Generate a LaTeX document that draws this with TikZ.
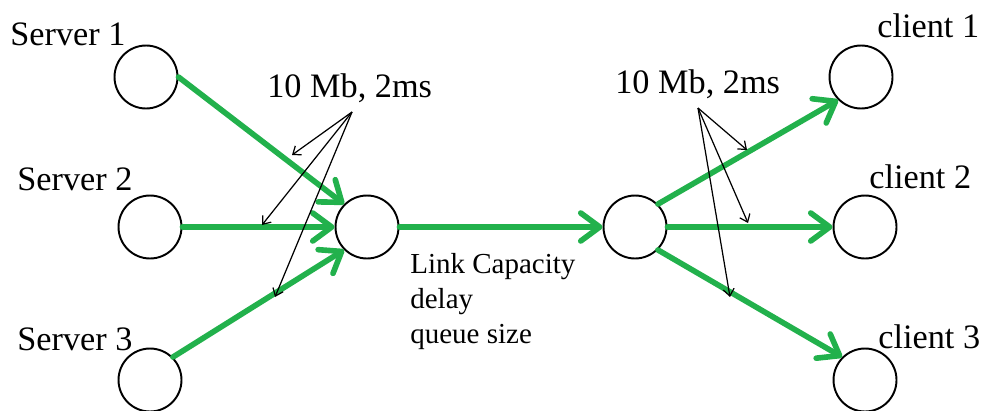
\documentclass[tikz,border=0pt]{standalone}
\usepackage{fontspec}
\setmainfont{Liberation Serif}
\usetikzlibrary{arrows.meta}
\definecolor{linkgreen}{RGB}{34,177,76}

\begin{document}
\begin{tikzpicture}[x=0.02cm, y=0.02cm,
  host/.style = {circle, draw, line width=1.1pt, minimum size=1.26cm, inner sep=0pt},
  tag/.style = {anchor=base west, inner sep=0pt, font=\fontsize{19.5}{23}\selectfont},
  link/.style = {linkgreen, line width=3.2pt, line cap=round,
                 -{Straight Barb[length=0.38cm, width=0.56cm, line cap=round, line join=round]}},
  note/.style = {line width=0.7pt, -{Straight Barb[length=0.14cm, width=0.22cm]}}]

\useasboundingbox (0,0) rectangle (982,410);

% Hosts
\node[host] (s1) at (146,333) {};
\node[host] (s2) at (150,183) {};
\node[host] (s3) at (150,30) {};
\node[host] (r1) at (367,183) {};
\node[host] (r2) at (635,183) {};
\node[host] (c1) at (861,333) {};
\node[host] (c2) at (865,183) {};
\node[host] (c3) at (865,30) {};

% Host names
\node[tag] (n1) at (10,365) {Server 1};
\node[tag] (n2) at (17,220) {Server 2};
\node[tag] (n3) at (17,60) {Server 3};
\node[tag] (m1) at (877,373) {client 1};
\node[tag] (m2) at (869,222) {client 2};
\node[tag] (m3) at (878,62) {client 3};

% Green links
\draw[link] (s1.east) -- (r1.north west);
\draw[link] (s2.east) -- (r1.west);
\draw[link] (s3.north east) -- (r1.south west);
\draw[link] (r1.east) -- (r2.west);
\draw[link] (r2.north east) -- (c1.south west);
\draw[link] (r2.east) -- (c2.west);
\draw[link] (r2.south east) -- (c3.north west);

% Link labels
\node[tag] (bw1) at (267,313) {10 Mb, 2ms};
\node[tag] (bw2) at (615,317) {10 Mb, 2ms};
\node[tag, align=left, font=\fontsize{16.5}{18.8}\selectfont] (cap) at (410,67) {Link Capacity\\[1pt]delay\\[1pt]queue size};

% Pointers to the links
\coordinate (t1) at (352,298);
\coordinate (t2) at (698,302);
\coordinate (e1) at (292,255);
\coordinate (e2) at (262,185);
\coordinate (e3) at (275,113);
\coordinate (f1) at (747,260);
\coordinate (f2) at (748,187);
\coordinate (f3) at (730,113);
\draw[note] (t1) -- (e1);
\draw[note] (t1) -- (e2);
\draw[note] (t1) -- (e3);
\draw[note] (t2) -- (f1);
\draw[note] (t2) -- (f2);
\draw[note] (t2) -- (f3);

\end{tikzpicture}
\end{document}
